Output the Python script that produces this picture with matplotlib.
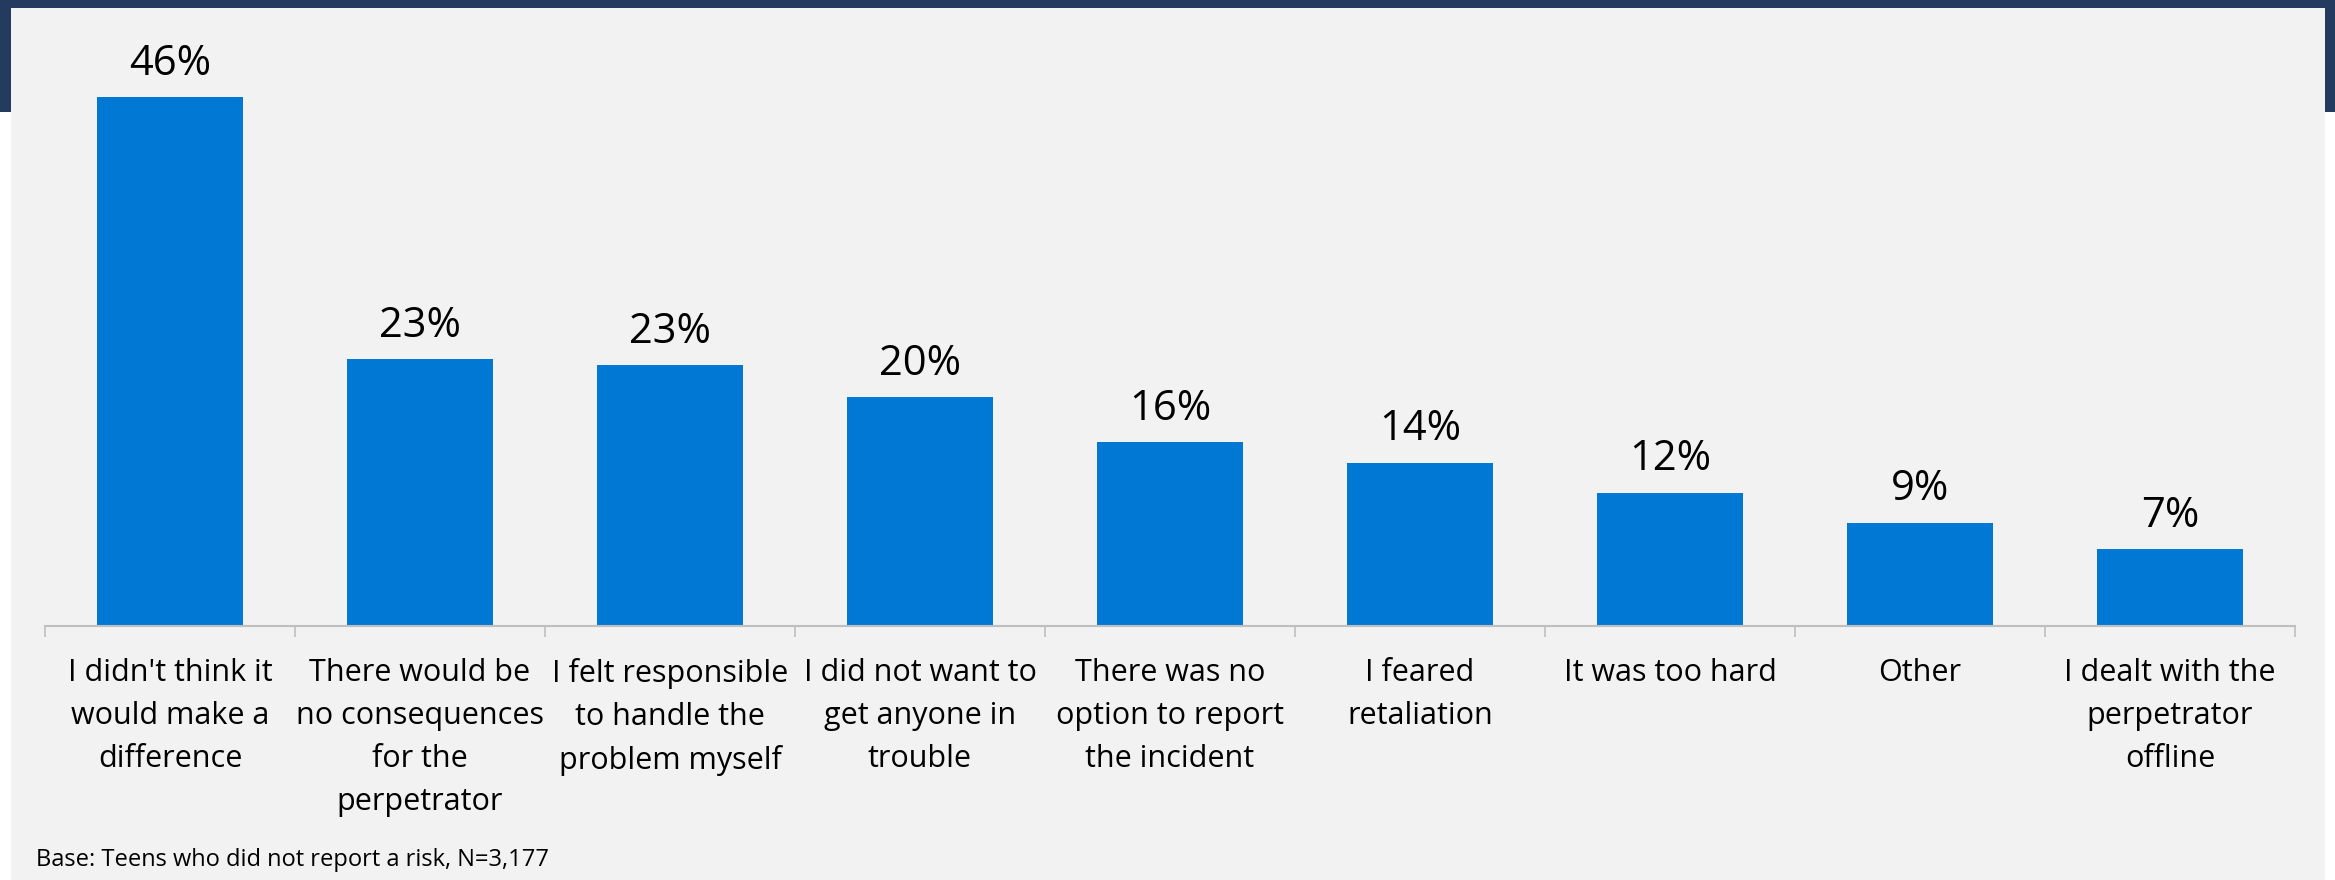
import matplotlib.pyplot as plt
from matplotlib.patches import Rectangle

plt.rcParams['font.family'] = ['Open Sans', 'DejaVu Sans']

# data
reasons = [
    "I didn't think it\nwould make a\ndifference",
    "There would be\nno consequences\nfor the\nperpetrator",
    "I felt responsible\nto handle the\nproblem myself",
    "I did not want to\nget anyone in\ntrouble",
    "There was no\noption to report\nthe incident",
    "I feared\nretaliation",
    "It was too hard",
    "Other",
    "I dealt with the\nperpetrator\noffline",
]
shares = [46, 23.2, 22.7, 19.9, 16.0, 14.2, 11.6, 9.0, 6.7]
labels = ["46%", "23%", "23%", "20%", "16%", "14%", "12%", "9%", "7%"]

W, H = 2335, 880
fig = plt.figure(figsize=(W / 100, H / 100), dpi=100)
fig.patch.set_facecolor('white')

navy = '#243A5E'
# frame: navy strip on top, grey panel
def frame_rect(x0, y0, w, h, color):
    fig.patches.append(Rectangle((x0 / W, 1 - (y0 + h) / H), w / W, h / H,
                                 transform=fig.transFigure, facecolor=color,
                                 edgecolor='none', zorder=-5))

frame_rect(0, 0, W, 8, navy)
frame_rect(0, 0, 11, 112, navy)
frame_rect(2325, 0, 10, 112, navy)
frame_rect(11, 8, 2325 - 11, H - 8, '#F2F2F2')

base_y = 626
top = 50
px_per = 11.5
ax = fig.add_axes([45 / W, (H - base_y) / H, (2295 - 45) / W, top * px_per / H])
ax.set_facecolor('none')

x = range(len(shares))
bars = ax.bar(x, shares, width=0.585, color='#0078D4', zorder=2)
for i, b in enumerate(bars):
    ax.annotate(labels[i], (b.get_x() + b.get_width() / 2, b.get_height()),
                xytext=(0, 16), textcoords='offset points', ha='center', va='baseline',
                fontsize=30, color='black')

ax.set_xlim(-0.5, len(shares) - 0.5)
ax.set_ylim(0, top)
ax.set_yticks([])
ax.set_xticks(list(x))
ax.set_xticklabels(reasons, fontsize=22, linespacing=1.56)
ax.tick_params(axis='x', which='major', length=0, pad=23)
ax.set_xticks([i - 0.5 for i in range(len(shares) + 1)], minor=True)
ax.tick_params(axis='x', which='minor', length=8, width=1.2, color='#BFBFBF')
for s in ['top', 'right', 'left']:
    ax.spines[s].set_visible(False)
ax.spines['bottom'].set_color('#BFBFBF')
ax.spines['bottom'].set_linewidth(1.5)

fig.text(36 / W, (H - 860) / H, "Base: Teens who did not report a risk, N=3,177",
         fontsize=17, va='center', ha='left')

fig.savefig('out.png', dpi=100)
